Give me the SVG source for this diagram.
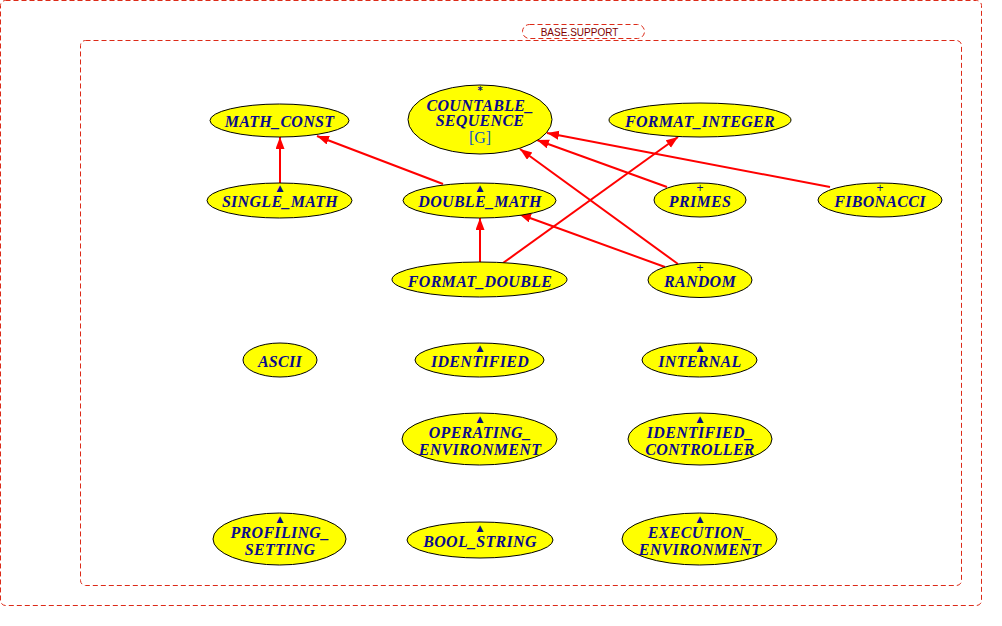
<svg xmlns="http://www.w3.org/2000/svg" width="1002" height="626" viewBox="0 0 1002 626">
<style>
.cl{fill:none;stroke:#dc2a18;stroke-width:1;stroke-dasharray:5,3}
.nd{fill:#ffff00;stroke:#000;stroke-width:1}
.t{font-family:"Liberation Serif",serif;font-size:16px;font-weight:bold;font-style:italic;fill:#0a0a8c;text-anchor:middle;letter-spacing:0.3px}
.m{font-family:"DejaVu Sans",sans-serif;font-size:9px;fill:#0a0a8c;text-anchor:middle}
.p{font-family:"Liberation Sans",sans-serif;font-size:12px;fill:#0a0a8c;text-anchor:middle}
.s{font-family:"DejaVu Sans",sans-serif;font-size:10px;font-weight:bold;fill:#0a0a8c;text-anchor:middle}
.g{font-family:"Liberation Serif",serif;font-size:16px;fill:#0a55c0;text-anchor:middle}
.e{stroke:#ff0000;stroke-width:2;fill:none;marker-end:url(#ah)}
.lb{font-family:"Liberation Sans",sans-serif;font-size:10px;fill:#800000;text-anchor:middle}
</style>
<defs>
<marker id="ah" markerUnits="userSpaceOnUse" markerWidth="13" markerHeight="10" refX="12" refY="4.5" orient="auto">
<path d="M0,0 L12,4.5 L0,9 z" fill="#ff0000"/>
</marker>
</defs>
<g id="clusters">
<rect class="cl" x="0.5" y="0.5" width="981" height="605" rx="5"/>
<rect class="cl" x="80.5" y="40.5" width="881" height="545" rx="5"/>
<rect class="cl" x="522.5" y="24.5" width="122" height="14" rx="7" fill="#fff"/>
<text class="lb" x="579.5" y="35.5">BASE.SUPPORT</text>
</g>
<g id="edges">
<line class="e" x1="280" y1="183" x2="280" y2="137"/>
<line class="e" x1="443" y1="184" x2="317" y2="136"/>
<line class="e" x1="480" y1="262" x2="480" y2="218"/>
<line class="e" x1="503" y1="263" x2="678" y2="137"/>
<line class="e" x1="665" y1="267" x2="519" y2="214"/>
<line class="e" x1="678" y1="264" x2="520" y2="149"/>
<line class="e" x1="667" y1="187" x2="537" y2="140"/>
<line class="e" x1="830" y1="187" x2="547" y2="133"/>
</g>
<g id="MATH_CONST"><ellipse class="nd" cx="279.5" cy="120.5" rx="69.5" ry="16.5"/><text class="t" x="279.5" y="127">MATH_CONST</text></g>
<g id="COUNTABLE_SEQUENCE"><ellipse class="nd" cx="480" cy="119.5" rx="72" ry="34.5"/><text class="s" x="480" y="94">*</text><text class="t" x="480" y="111">COUNTABLE_</text><text class="t" x="480" y="126">SEQUENCE</text><text class="g" x="480" y="143">[G]</text></g>
<g id="FORMAT_INTEGER"><ellipse class="nd" cx="700" cy="120" rx="91" ry="17"/><text class="t" x="700" y="127">FORMAT_INTEGER</text></g>
<g id="SINGLE_MATH"><ellipse class="nd" cx="279.5" cy="200.5" rx="72.5" ry="17.5"/><text class="m" x="280" y="191">▲</text><text class="t" x="280" y="207">SINGLE_MATH</text></g>
<g id="DOUBLE_MATH"><ellipse class="nd" cx="479.5" cy="200.5" rx="76.5" ry="17.5"/><text class="m" x="480" y="191">▲</text><text class="t" x="480" y="207">DOUBLE_MATH</text></g>
<g id="PRIMES"><ellipse class="nd" cx="700" cy="200" rx="46" ry="17"/><text class="p" x="700" y="192">+</text><text class="t" x="700" y="207">PRIMES</text></g>
<g id="FIBONACCI"><ellipse class="nd" cx="880" cy="200" rx="62" ry="17"/><text class="p" x="880" y="192">+</text><text class="t" x="880" y="207">FIBONACCI</text></g>
<g id="FORMAT_DOUBLE"><ellipse class="nd" cx="479.5" cy="279.5" rx="87.5" ry="17.5"/><text class="t" x="480" y="287">FORMAT_DOUBLE</text></g>
<g id="RANDOM"><ellipse class="nd" cx="700" cy="280" rx="52" ry="17.5"/><text class="p" x="700" y="272">+</text><text class="t" x="700" y="287">RANDOM</text></g>
<g id="ASCII"><ellipse class="nd" cx="280" cy="360" rx="37" ry="17"/><text class="t" x="280" y="367">ASCII</text></g>
<g id="IDENTIFIED"><ellipse class="nd" cx="479.5" cy="360" rx="64.5" ry="17"/><text class="m" x="480" y="351">▲</text><text class="t" x="480" y="367">IDENTIFIED</text></g>
<g id="INTERNAL"><ellipse class="nd" cx="699.5" cy="360" rx="57.5" ry="17"/><text class="m" x="700" y="351">▲</text><text class="t" x="700" y="367">INTERNAL</text></g>
<g id="OPERATING_ENVIRONMENT"><ellipse class="nd" cx="479.5" cy="439" rx="77.5" ry="26"/><text class="m" x="480" y="422">▲</text><text class="t" x="480" y="438">OPERATING_</text><text class="t" x="480" y="455">ENVIRONMENT</text></g>
<g id="IDENTIFIED_CONTROLLER"><ellipse class="nd" cx="700" cy="439" rx="72" ry="26"/><text class="m" x="700" y="422">▲</text><text class="t" x="700" y="438">IDENTIFIED_</text><text class="t" x="700" y="455">CONTROLLER</text></g>
<g id="PROFILING_SETTING"><ellipse class="nd" cx="279.5" cy="539" rx="66.5" ry="26"/><text class="m" x="280" y="522">▲</text><text class="t" x="280" y="538">PROFILING_</text><text class="t" x="280" y="555">SETTING</text></g>
<g id="BOOL_STRING"><ellipse class="nd" cx="480" cy="540" rx="73" ry="18"/><text class="m" x="480" y="531">▲</text><text class="t" x="480" y="547">BOOL_STRING</text></g>
<g id="EXECUTION_ENVIRONMENT"><ellipse class="nd" cx="699.5" cy="539" rx="77.5" ry="26"/><text class="m" x="700" y="522">▲</text><text class="t" x="700" y="538">EXECUTION_</text><text class="t" x="700" y="555">ENVIRONMENT</text></g>
</svg>
